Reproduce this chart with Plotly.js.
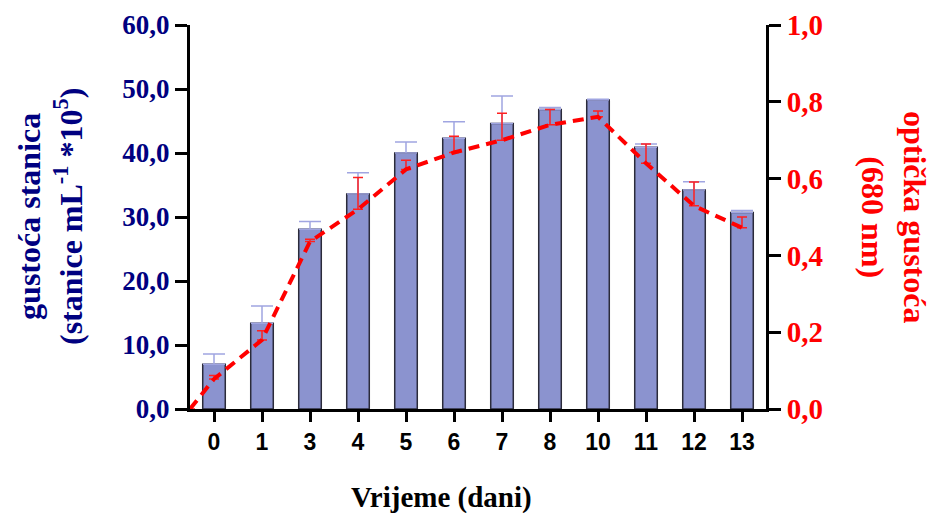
<!DOCTYPE html>
<html>
<head>
<meta charset="utf-8">
<script src="https://cdn.plot.ly/plotly-3.0.1.min.js"></script>
<style>html,body{margin:0;padding:0;background:#fff;}#chart{width:933px;height:513px;}</style>
</head>
<body>
<div id="chart"></div>
<script>
// Data
const days = ["0", "1", "3", "4", "5", "6", "7", "8", "10", "11", "12", "13"];
const cellDensity = [7.0, 13.4, 28.1, 33.6, 40.0, 42.3, 44.6, 46.8, 48.3, 40.9, 34.2, 30.7];
const cellDensityErr = [1.6, 2.7, 1.2, 3.3, 1.7, 2.6, 4.3, 0.3, 0.1, 0.5, 1.3, 0.3];
const opticalDensity = [0.078, 0.18, 0.436, 0.52, 0.624, 0.668, 0.70, 0.74, 0.761, 0.64, 0.529, 0.472];
const opticalDensityErr = [0.009, 0.024, 0.006, 0.083, 0.024, 0.042, 0.07, 0.04, 0.015, 0.05, 0.062, 0.028];
const odStartValue = 0;      // line starts at the origin
const odStartPos = -0.5;     // left edge of the category axis

const idx = days.map((_, i) => i);
const zeros = days.map(() => 0);

const serif = "Liberation Serif, Times New Roman, serif";
const sans = "Liberation Sans, Arial, sans-serif";

const bars = {
  type: "bar",
  x: idx,
  y: cellDensity,
  width: 0.47,
  marker: {color: "rgb(139,147,207)", line: {color: "#2b2b3a", width: 1.5}},
  error_y: {type: "data", symmetric: false, array: cellDensityErr, arrayminus: zeros,
            color: "rgb(160,165,225)", thickness: 1.5, width: 11},
  yaxis: "y",
  hoverinfo: "skip"
};

const line = {
  type: "scatter",
  mode: "lines",
  x: [odStartPos].concat(idx),
  y: [odStartValue].concat(opticalDensity),
  line: {color: "#ff0000", width: 4, dash: "11px,7px"},
  error_y: {type: "data", symmetric: false, array: [0].concat(opticalDensityErr),
            arrayminus: [0].concat(zeros), color: "#ff2020", thickness: 1.5, width: 5},
  yaxis: "y2",
  cliponaxis: false,
  hoverinfo: "skip"
};

const layout = {
  width: 933, height: 513,
  margin: {l: 190, r: 167, t: 25, b: 104},
  paper_bgcolor: "#fff", plot_bgcolor: "rgba(0,0,0,0)",
  separators: ",.",
  showlegend: false,
  bargap: 0,
  xaxis: {
    range: [-0.5, 11.5], tickmode: "array", tickvals: idx, ticktext: days,
    showgrid: false, zeroline: false, showline: true, linecolor: "#000", linewidth: 3,
    ticks: "outside", ticklen: 10, tickwidth: 3, tickcolor: "#000",
    tickfont: {family: sans, size: 23, color: "#000", weight: "bold"}
  },
  yaxis: {
    range: [0, 60], dtick: 10, tickformat: ".1f",
    showgrid: false, zeroline: false, showline: true, linecolor: "#000", linewidth: 3,
    ticks: "outside", ticklen: 12, tickwidth: 3, tickcolor: "#000",
    tickfont: {family: serif, size: 27, color: "#000080", weight: "bold"}
  },
  yaxis2: {
    overlaying: "y", side: "right", range: [0, 1], dtick: 0.2, tickformat: ".1f",
    showgrid: false, zeroline: false, showline: true, linecolor: "#000", linewidth: 3,
    ticks: "outside", ticklen: 12, tickwidth: 3, tickcolor: "#000",
    tickfont: {family: serif, size: 29, color: "#ff0000", weight: "bold"}
  },
  annotations: [
    {text: "gustoća stanica<br>(stanice mL<sup>-1</sup> *10<sup>5</sup>)", textangle: -90,
     xref: "paper", yref: "paper", x: (50 - 190) / 576, y: 0.5, xanchor: "center", yanchor: "middle",
     showarrow: false, font: {family: serif, size: 32, color: "#000080", weight: "bold"}},
    {text: "optička gustoća<br>(680 nm)", textangle: 90,
     xref: "paper", yref: "paper", x: (894 - 190) / 576, y: 0.5, xanchor: "center", yanchor: "middle",
     showarrow: false, font: {family: serif, size: 32, color: "#ff0000", weight: "bold"}},
    {text: "Vrijeme (dani)",
     xref: "paper", yref: "paper", x: (441 - 190) / 576, y: (409 - 497) / 384, xanchor: "center", yanchor: "middle",
     showarrow: false, font: {family: serif, size: 29, color: "#000", weight: "bold"}}
  ]
};

Plotly.newPlot("chart", [bars, line], layout, {displayModeBar: false, staticPlot: true});
</script>
</body>
</html>
